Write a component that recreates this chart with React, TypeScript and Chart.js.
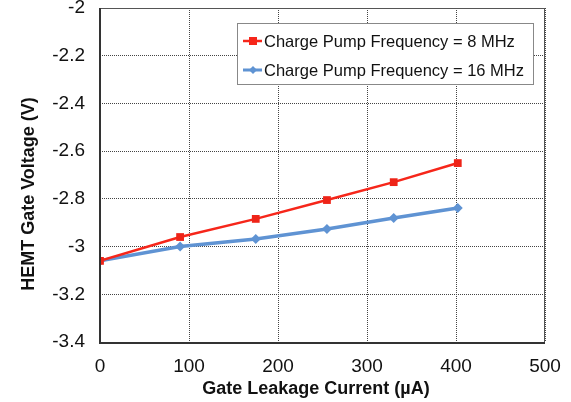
import React, { useEffect, useRef } from "react";
import { Chart, registerables } from "chart.js";

Chart.register(...registerables);

const xValues = [0, 90, 175, 255, 330, 402];
const series8MHz = [-3.06, -2.96, -2.884, -2.805, -2.73, -2.65];
const series16MHz = [-3.06, -3.0, -2.968, -2.926, -2.88, -2.838];
const seriesNames = ["Charge Pump Frequency = 8 MHz", "Charge Pump Frequency = 16 MHz"];
const xTitle = "Gate Leakage Current (µA)";
const yTitle = "HEMT Gate Voltage (V)";

const RED = "#f6261a";
const BLUE = "#5f93d3";
const FONT = "'Liberation Sans', Arial, sans-serif";

const frameAndLegend = {
  id: "frameAndLegend",
  afterDraw(chart: any) {
    const { ctx, chartArea } = chart;
    const { left, right, top, bottom } = chartArea;
    ctx.save();
    // frame
    ctx.strokeStyle = "#555";
    ctx.lineWidth = 1;
    ctx.strokeRect(left + 0.5, top + 0.5, right - left - 1, bottom - top);
    ctx.strokeStyle = "#333";
    ctx.lineWidth = 2;
    ctx.beginPath();
    ctx.moveTo(left, top);
    ctx.lineTo(left, bottom + 1);
    ctx.lineTo(right, bottom + 1);
    ctx.stroke();

    // axis titles
    ctx.fillStyle = "#111";
    ctx.font = `bold 18px ${FONT}`;
    ctx.textAlign = "center";
    ctx.textBaseline = "middle";
    ctx.fillText(xTitle, 316, 389);
    ctx.save();
    ctx.translate(29, 194);
    ctx.rotate(-Math.PI / 2);
    ctx.fillText(yTitle, 0, 0);
    ctx.restore();

    // legend
    const bx = 237, by = 23, bw = 296, bh = 61;
    ctx.fillStyle = "#fff";
    ctx.fillRect(bx, by, bw, bh);
    ctx.strokeStyle = "#888";
    ctx.lineWidth = 1;
    ctx.strokeRect(bx + 0.5, by + 0.5, bw, bh);
    const items = [
      { label: seriesNames[0], color: RED, y: 41, style: "rect" },
      { label: seriesNames[1], color: BLUE, y: 70, style: "diamond" },
    ];
    ctx.font = `16.5px ${FONT}`;
    ctx.textBaseline = "middle";
    ctx.textAlign = "left";
    for (const it of items) {
      ctx.strokeStyle = it.color;
      ctx.lineWidth = it.style === "rect" ? 2.5 : 3;
      ctx.beginPath();
      ctx.moveTo(243, it.y);
      ctx.lineTo(262, it.y);
      ctx.stroke();
      ctx.fillStyle = it.color;
      if (it.style === "rect") {
        ctx.fillRect(249, it.y - 4, 8, 8);
      } else {
        ctx.beginPath();
        ctx.moveTo(253, it.y - 4);
        ctx.lineTo(257, it.y);
        ctx.lineTo(253, it.y + 4);
        ctx.lineTo(249, it.y);
        ctx.closePath();
        ctx.fill();
      }
      ctx.fillStyle = "#111";
      ctx.fillText(it.label, 264, it.y + 1);
    }
    ctx.restore();
  },
};

export default function App() {
  const ref = useRef<HTMLCanvasElement>(null);
  useEffect(() => {
    if (!ref.current) return;
    const chart = new Chart(ref.current, {
      type: "line",
      data: {
        datasets: [
          {
            label: seriesNames[0],
            data: xValues.map((x, i) => ({ x, y: series8MHz[i] })),
            borderColor: RED,
            backgroundColor: RED,
            borderWidth: 2.5,
            pointStyle: "rect",
            pointRadius: 5.5,
            pointBorderWidth: 0,
            pointBackgroundColor: "#ee2418",
          },
          {
            label: seriesNames[1],
            data: xValues.map((x, i) => ({ x, y: series16MHz[i] })),
            borderColor: BLUE,
            backgroundColor: BLUE,
            borderWidth: 3.5,
            pointStyle: "rectRot",
            pointRadius: 5,
            pointBorderWidth: 0,
            pointBackgroundColor: BLUE,
          },
        ],
      },
      options: {
        animation: false,
        responsive: false,
        layout: { padding: { top: 8, right: 26, left: 0, bottom: 0 } },
        plugins: { legend: { display: false }, tooltip: { enabled: false } },
        scales: {
          x: {
            type: "linear",
            min: 0,
            max: 500,
            ticks: {
              stepSize: 100,
              padding: 13,
              color: "#111",
              font: { family: FONT, size: 19 },
            },
            grid: {
              drawTicks: false,
              color: "#444",
              lineWidth: 1,
            },
            border: { display: false, dash: [1, 1] },
            title: { display: false },
            afterFit(scale: any) {
              scale.height = 60;
              scale.paddingLeft = 0;
              scale.paddingRight = 0;
            },
          },
          y: {
            min: -3.4,
            max: -2,
            ticks: {
              stepSize: 0.2,
              padding: 15,
              color: "#111",
              font: { family: FONT, size: 19 },
              callback: (v: any) => String(Math.round(Number(v) * 10) / 10),
            },
            grid: {
              drawTicks: false,
              color: "#444",
              lineWidth: 1,
            },
            border: { display: false, dash: [1, 1] },
            title: { display: false },
            afterFit(scale: any) {
              scale.width = 100;
              scale.paddingTop = 0;
              scale.paddingBottom = 0;
            },
          },
        },
      },
      plugins: [frameAndLegend],
    } as any);
    return () => chart.destroy();
  }, []);
  return (
    <div style={{ position: "absolute", left: 0, top: 0, width: 571, height: 402, background: "#fff" }}>
      <canvas ref={ref} width={571} height={402} style={{ display: "block" }} />
    </div>
  );
}
